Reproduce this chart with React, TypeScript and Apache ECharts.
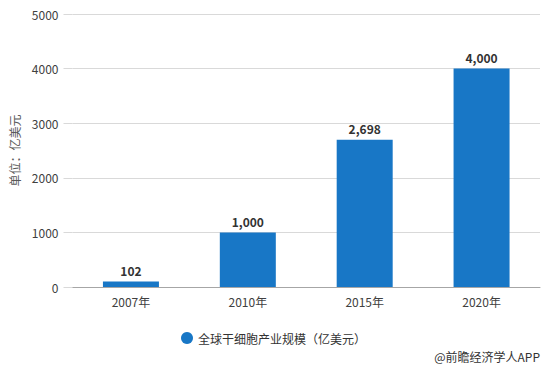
import React, { useEffect, useRef } from "react";
import * as echarts from "echarts";

const categories = ["2007年", "2010年", "2015年", "2020年"];
const values = [102, 1000, 2698, 4000];
const seriesName = "全球干细胞产业规模（亿美元）";
const yAxisName = "单位：亿美元";
const sourceText = "@前瞻经济学人APP";

export default function App() {
  const ref = useRef<HTMLDivElement>(null);
  useEffect(() => {
    const chart = echarts.init(ref.current!, undefined, { renderer: "svg" });
    const font = "'Microsoft YaHei', 'Noto Sans CJK SC', sans-serif";
    chart.setOption({
      animation: false,
      textStyle: { fontFamily: font },
      grid: { left: 72.5, right: 8, top: 14, bottom: 83 },
      legend: {
        data: [{ name: seriesName, icon: "circle" }],
        left: 176,
        top: 327,
        itemWidth: 12,
        itemHeight: 12,
        itemGap: 6,
        textStyle: { color: "#333", fontSize: 12, fontFamily: font },
      },
      graphic: [
        {
          type: "text",
          right: 8,
          top: 350,
          style: { text: sourceText, fill: "#333", fontSize: 12, fontFamily: font },
        },
      ],
      xAxis: {
        type: "category",
        data: categories,
        axisLine: { lineStyle: { color: "#a6a6a6" } },
        axisTick: { alignWithLabel: true, length: 4, lineStyle: { color: "#a6a6a6" } },
        axisLabel: { color: "#404040", fontSize: 12, margin: 8 },
      },
      yAxis: {
        type: "value",
        min: 0,
        max: 5000,
        interval: 1000,
        name: yAxisName,
        nameLocation: "middle",
        nameGap: 52,
        nameTextStyle: { color: "#595959", fontSize: 12 },
        axisLine: { show: false },
        axisTick: { show: true, length: 9, lineStyle: { color: "#d9d9d9" } },
        axisLabel: { color: "#404040", fontSize: 12, margin: 14, formatter: (v: number) => String(v) },
        splitLine: { lineStyle: { color: "#d9d9d9" } },
      },
      series: [
        {
          name: seriesName,
          type: "bar",
          data: values,
          barWidth: 56,
          itemStyle: { color: "#1877c6" },
          label: {
            show: true,
            position: "top",
            color: "#333",
            fontWeight: "bold",
            fontSize: 12,
            formatter: (p: any) => Number(p.value).toLocaleString("en-US"),
          },
        },
      ],
    });
    return () => chart.dispose();
  }, []);
  return (
    <div
      ref={ref}
      style={{ position: "fixed", left: 0, top: 0, width: 548, height: 370, background: "#fff" }}
    />
  );
}
